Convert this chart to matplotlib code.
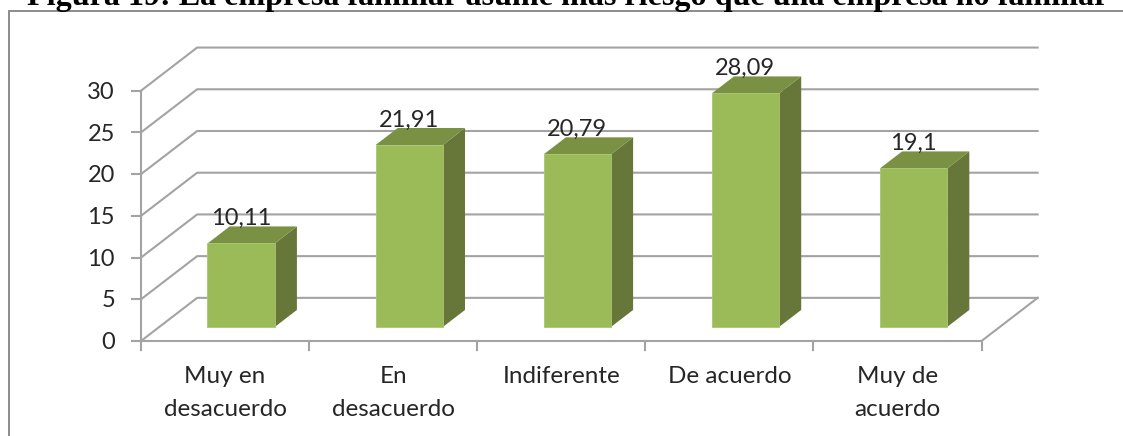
import matplotlib
matplotlib.use("Agg")
import matplotlib.pyplot as plt

categories = ["Muy en\ndesacuerdo", "En\ndesacuerdo", "Indiferente", "De acuerdo", "Muy de\nacuerdo"]
values = [10.11, 21.91, 20.79, 28.09, 19.1]
value_labels = ["10,11", "21,91", "20,79", "28,09", "19,1"]
y_ticks = [0, 5, 10, 15, 20, 25, 30]
title = "Figura 19: La empresa familiar asume más riesgo que una empresa no familiar"

W, H = 1123, 436
fig = plt.figure(figsize=(W / 100, H / 100), dpi=100)

# outer frame of the pasted chart
frame = fig.add_axes([0, 0, 1, 1])
frame.set_xlim(0, W)
frame.set_ylim(H, 0)
frame.axis("off")
frame.plot([8.5, 8.5, W + 5], [H + 5, 11.5, 11.5], color="#8c8c8c", lw=1.4, solid_joinstyle="miter")
frame.text(568, 5.5, title, family="Liberation Serif", weight="bold", fontsize=23.1,
           ha="center", va="baseline", color="black")

# axes = the front plane of the 3D box
left, right, bottom, top = 141, 981.5, 341, 90.7
ax = fig.add_axes([left / W, 1 - bottom / H, (right - left) / W, (bottom - top) / H])
ax.set_xlim(0, len(categories))
ax.set_ylim(0, 30)
ax.axis("off")
ax.patch.set_alpha(0)

depth_x = 0.334   # categories
depth_y = 5.17    # value units
grid_col = "#a3a3a3"
n = len(categories)
fs = 17

for v in y_ticks:
    ax.plot([0, depth_x, n + depth_x], [v, v + depth_y, v + depth_y], color=grid_col,
            lw=1.5, clip_on=False, zorder=1)
    ax.plot([0, -0.053], [v, v], color=grid_col, lw=1.5, clip_on=False, zorder=1)
    ax.text(-0.155, v - 0.2, str(v), ha="right", va="center", fontsize=fs, family="Lato",
            color="#262626", clip_on=False)

ax.plot([0, 0], [0, 30], color=grid_col, lw=1.5, clip_on=False, zorder=2)
ax.plot([0, n, n + depth_x], [0, 0, depth_y], color=grid_col, lw=1.5, clip_on=False, zorder=2)
for i in range(n + 1):
    ax.plot([i, i], [0, -1.05], color=grid_col, lw=1.5, clip_on=False, zorder=2)

bar_w = 0.4
near = 0.325   # front of the bar, as share of the depth
far = 0.72     # back of the bar
for i, v in enumerate(values):
    x0 = i + 0.287 + near * depth_x
    x1 = x0 + bar_w
    y0 = near * depth_y
    y1 = y0 + v - 0.1
    dx = (far - near) * depth_x
    dy = (far - near) * depth_y
    ax.fill([x1, x1 + dx, x1 + dx, x1], [y0, y0 + dy, y1 + dy, y1], color="#67773a", lw=0, zorder=3, clip_on=False)
    ax.fill([x0, x1, x1 + dx, x0 + dx], [y1, y1, y1 + dy, y1 + dy], color="#7a9143", lw=0, zorder=3, clip_on=False)
    ax.fill([x0, x1, x1, x0], [y0, y0, y1, y1], facecolor="#9bbb59", edgecolor="#a9c672", lw=0.6, zorder=4, clip_on=False)
    ax.text((x0 + x1) / 2, y1 + dy - 0.3, value_labels[i], ha="center", va="bottom", fontsize=fs,
            family="Lato", color="#262626", zorder=5, clip_on=False)
    ax.text(i + 0.5, -3.0, categories[i], ha="center", va="top", fontsize=17.5, family="Lato",
            color="#262626", linespacing=1.72, clip_on=False)

fig.savefig("out.png", dpi=100)
